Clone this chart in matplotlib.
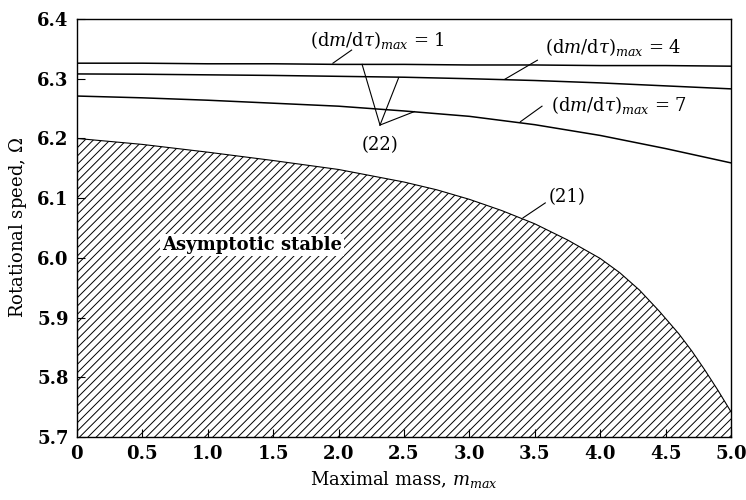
import matplotlib
matplotlib.use("Agg")
import matplotlib.pyplot as plt
import numpy as np

plt.rcParams["font.family"] = "DejaVu Serif"
plt.rcParams["mathtext.fontset"] = "dejavuserif"
plt.rcParams["hatch.linewidth"] = 0.7

# boundary (21): asymptotic stability limit
m21 = [0.0, 0.5, 1.0, 1.5, 2.0, 2.5, 2.75, 3.0, 3.25, 3.5, 3.75, 4.0, 4.15, 4.3,
       4.45, 4.6, 4.7, 4.8, 4.9, 5.0]
w21 = [6.200, 6.190, 6.177, 6.163, 6.148, 6.127, 6.114, 6.098, 6.079, 6.057,
       6.030, 5.999, 5.975, 5.946, 5.911, 5.873, 5.844, 5.812, 5.778, 5.742]

# curves (22) for different (dm/dtau)_max
m22 = [0.0, 0.5, 1.0, 1.5, 2.0, 2.5, 3.0, 3.5, 4.0, 4.5, 5.0]
w22_1 = [6.326, 6.326, 6.325, 6.325, 6.324, 6.324, 6.323, 6.323, 6.322, 6.322, 6.321]
w22_4 = [6.308, 6.3075, 6.3065, 6.3055, 6.304, 6.3025, 6.300, 6.297, 6.293, 6.288, 6.283]
w22_7 = [6.271, 6.268, 6.264, 6.259, 6.254, 6.246, 6.237, 6.223, 6.205, 6.183, 6.159]

xticks = [0, 0.5, 1.0, 1.5, 2.0, 2.5, 3.0, 3.5, 4.0, 4.5, 5.0]
xticklabels = ["0", "0.5", "1.0", "1.5", "2.0", "2.5", "3.0", "3.5", "4.0", "4.5", "5.0"]
yticks = [5.7, 5.8, 5.9, 6.0, 6.1, 6.2, 6.3, 6.4]

fig = plt.figure(figsize=(7.46, 5.0), dpi=100)
ax = fig.add_axes([0.103, 0.126, 0.877, 0.836])

ax.fill_between(m21, 5.7, w21, facecolor="white", edgecolor="black",
                hatch="////", linewidth=0)
ax.plot(m21, w21, color="black", lw=0.8)
for w in (w22_1, w22_4, w22_7):
    ax.plot(m22, w, color="black", lw=1.1)

ax.set_xlim(0, 5)
ax.set_ylim(5.7, 6.4)
ax.set_xticks(xticks)
ax.set_xticklabels(xticklabels)
ax.set_yticks(yticks)
ax.tick_params(direction="in", length=6, width=0.8, labelsize=13, pad=6)
for lab in ax.get_xticklabels() + ax.get_yticklabels():
    lab.set_fontweight("bold")
for s in ax.spines.values():
    s.set_linewidth(1.0)

ax.set_xlabel(r"Maximal mass, $m_{max}$", fontsize=13, labelpad=4)
ax.set_ylabel(r"Rotational speed, $\Omega$", fontsize=13, labelpad=6)

lw = 0.8
fs = 13
# labels for (22) curves
ax.text(2.30, 6.365, r"$(\mathrm{d}m/\mathrm{d}\tau)_{max}$ = 1", fontsize=fs,
        ha="center", va="center")
ax.plot([1.957, 2.10], [6.326, 6.348], color="black", lw=lw)
ax.text(4.10, 6.353, r"$(\mathrm{d}m/\mathrm{d}\tau)_{max}$ = 4", fontsize=fs,
        ha="center", va="center")
ax.plot([3.27, 3.52], [6.299, 6.331], color="black", lw=lw)
ax.text(4.14, 6.256, r"$(\mathrm{d}m/\mathrm{d}\tau)_{max}$ = 7", fontsize=fs,
        ha="center", va="center")
ax.plot([3.39, 3.555], [6.228, 6.254], color="black", lw=lw)

# (22) pointer
apex = (2.317, 6.2224)
for end in [(2.18, 6.324), (2.46, 6.302), (2.58, 6.245)]:
    ax.plot([apex[0], end[0]], [apex[1], end[1]], color="black", lw=lw)
ax.text(2.32, 6.189, "(22)", fontsize=fs, ha="center", va="center")

# (21) pointer
ax.text(3.75, 6.102, "(21)", fontsize=fs, ha="center", va="center")
ax.plot([3.41, 3.58], [6.067, 6.092], color="black", lw=lw)

ax.text(1.34, 6.021, "Asymptotic stable", fontsize=13, fontweight="bold",
        ha="center", va="center",
        bbox=dict(facecolor="white", edgecolor="none", pad=1.5))

fig.savefig("out.png", dpi=100)
